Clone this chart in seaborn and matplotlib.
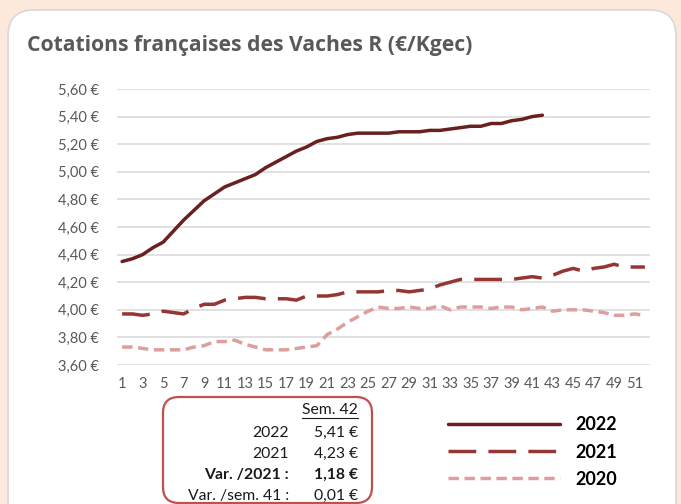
import numpy as np
import pandas as pd
import matplotlib
matplotlib.use("Agg")
import matplotlib.pyplot as plt
import seaborn as sns
from matplotlib.patches import FancyBboxPatch
from matplotlib.transforms import IdentityTransform
from matplotlib.lines import Line2D

# Données (€/kg carcasse, semaines 1 à 52)
prix_2022 = [4.35, 4.37, 4.40, 4.45, 4.49, 4.57, 4.65, 4.72, 4.79, 4.84,
             4.89, 4.92, 4.95, 4.98, 5.03, 5.07, 5.11, 5.15, 5.18, 5.22,
             5.24, 5.25, 5.27, 5.28, 5.28, 5.28, 5.28, 5.29, 5.29, 5.29,
             5.30, 5.30, 5.31, 5.32, 5.33, 5.33, 5.35, 5.35, 5.37, 5.38,
             5.40, 5.41]
prix_2021 = [3.97, 3.97, 3.96, 3.97, 3.99, 3.98, 3.97, 4.01, 4.04, 4.04,
             4.07, 4.08, 4.09, 4.09, 4.08, 4.08, 4.08, 4.07, 4.10, 4.10,
             4.10, 4.11, 4.13, 4.13, 4.13, 4.13, 4.14, 4.14, 4.13, 4.14,
             4.15, 4.18, 4.20, 4.22, 4.22, 4.22, 4.22, 4.22, 4.22, 4.23,
             4.24, 4.23, 4.25, 4.28, 4.30, 4.28, 4.30, 4.31, 4.33, 4.31,
             4.31, 4.31]
prix_2020 = [3.73, 3.73, 3.72, 3.71, 3.71, 3.71, 3.71, 3.73, 3.74, 3.77,
             3.77, 3.78, 3.75, 3.73, 3.71, 3.71, 3.71, 3.72, 3.73, 3.74,
             3.82, 3.86, 3.91, 3.95, 3.99, 4.02, 4.01, 4.01, 4.02, 4.01,
             4.01, 4.03, 4.00, 4.02, 4.02, 4.02, 4.01, 4.02, 4.02, 4.00,
             4.01, 4.02, 3.99, 4.00, 4.00, 4.00, 3.99, 3.98, 3.96, 3.96,
             3.97, 3.96]
annees = ["2022", "2021", "2020"]
couleurs = {"2022": "#6B2020", "2021": "#963634", "2020": "#DE9E9C"}
tirets = {"2022": "", "2021": (8, 3.5), "2020": (3, 1.6)}
semaine_ref = 42

df = pd.concat([
    pd.DataFrame({"semaine": np.arange(1, len(v) + 1), "prix": v, "annee": a})
    for a, v in zip(annees, [prix_2022, prix_2021, prix_2020])
])

W, H = 681, 504
plt.rcParams["ytick.major.pad"] = 13
plt.rcParams["xtick.major.pad"] = 9
fig = plt.figure(figsize=(W / 100, H / 100), dpi=100)
fig.patch.set_facecolor("#FCE9DB")

# panneau blanc arrondi
panneau = FancyBboxPatch((8, -60), 668, H - 10 + 60,
                         boxstyle="round,pad=0,rounding_size=26",
                         transform=IdentityTransform(), facecolor="white",
                         edgecolor="#D8D8D8", linewidth=1.2, zorder=-2)
fig.patches.append(panneau)

gris = "#595959"
police = ["Lato", "DejaVu Sans"]

fig.text(27 / W, 1 - 45 / H, "Cotations françaises des Vaches R (€/Kgec)",
         fontsize=15.2, fontweight="bold", color=gris, va="center",
         family=["Open Sans", "DejaVu Sans"])

ax = fig.add_axes([117 / W, 1 - 365 / H, 533 / W, 276 / H])
ax.set_facecolor("none")
sns.lineplot(data=df, x="semaine", y="prix", hue="annee", style="annee",
             hue_order=annees, style_order=annees, palette=couleurs,
             dashes=tirets, linewidth=2.5, ax=ax)
for ln in ax.lines:
    ln.set_solid_capstyle("round")
    ln.set_dash_capstyle("butt")

handles, labels = ax.get_legend_handles_labels()
ax.get_legend().remove()

ax.set_xlim(0.5, 52.5)
ax.set_ylim(3.6, 5.6)
ax.set_xticks(range(1, 52, 2))
ax.set_xticklabels([str(i) for i in range(1, 52, 2)])
yt = np.arange(3.6, 5.61, 0.2)
ax.set_yticks(yt)
ax.set_yticklabels([f"{v:.2f} €".replace(".", ",") for v in yt])
ax.grid(axis="y", color="#D9D9D9", linewidth=1.1)
ax.grid(axis="x", visible=False)
ax.set_axisbelow(True)
for s in ax.spines.values():
    s.set_visible(False)
ax.tick_params(length=0, labelsize=10.5, colors=gris)
ax.tick_params(axis="y", pad=13)
ax.tick_params(axis="x", pad=9)
for t in ax.get_xticklabels() + ax.get_yticklabels():
    t.set_family(police)
ax.set_xlabel("")
ax.set_ylabel("")

# encadré semaine 42
cadre = FancyBboxPatch((163, H - 503), 209, 106,
                       boxstyle="round,pad=0,rounding_size=16",
                       transform=IdentityTransform(), facecolor="white",
                       edgecolor="#C0504D", linewidth=1.6, zorder=-1)
fig.patches.append(cadre)

v22 = prix_2022[semaine_ref - 1]
v21 = prix_2021[semaine_ref - 1]
v22_prec = prix_2022[semaine_ref - 2]


def euro(v):
    return f"{v:.2f} €".replace(".", ",")


lignes = [
    ("", f"Sem. {semaine_ref}", "normal", 410),
    ("2022", euro(v22), "normal", 433),
    ("2021", euro(v21), "normal", 454),
    ("Var. /2021 :", euro(v22 - v21), "bold", 475),
    (f"Var. /sem. {semaine_ref - 1} :", euro(v22 - v22_prec), "normal", 496),
]
for lab, val, poids, y in lignes:
    fig.text(289 / W, 1 - y / H, lab, ha="right", va="center", fontsize=11.3,
             fontweight=poids, color="#1a1a1a", family=police)
    fig.text(358 / W, 1 - y / H, val, ha="right", va="center", fontsize=11.3,
             fontweight=poids, color="#1a1a1a", family=police)
fig.add_artist(Line2D([302 / W, 358 / W], [1 - 418 / H, 1 - 418 / H],
                      color="#1a1a1a", linewidth=0.8))

leg = fig.legend(handles, labels, loc="center left",
                 bbox_to_anchor=(432 / W, 1 - 452 / H), frameon=False,
                 handlelength=6.2, handletextpad=0.85, labelspacing=0.56,
                 prop={"family": police, "weight": "bold", "size": 13})
for t in leg.get_texts():
    t.set_color("black")

fig.savefig("out.png", dpi=100, facecolor=fig.get_facecolor())
